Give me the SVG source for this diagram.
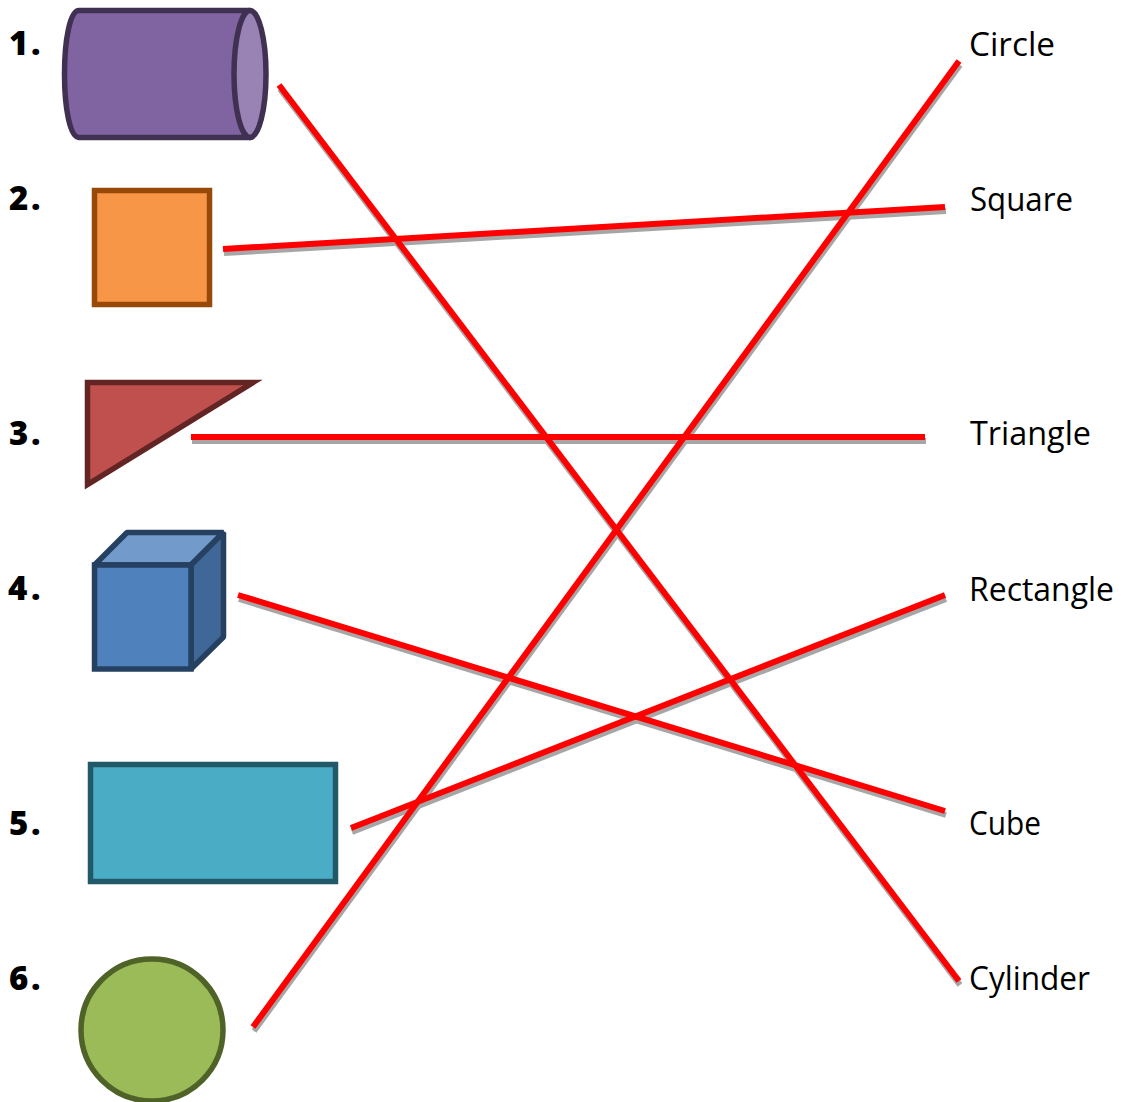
<svg xmlns="http://www.w3.org/2000/svg" width="1121" height="1102" viewBox="0 0 1121 1102">
<style>
text{font-family:"Open Sans","Noto Sans","Liberation Sans",sans-serif;font-size:32px;fill:#000}
.n{font-weight:800;font-size:33px}
.s{stroke-width:5.500}
.sh{stroke:#a6a6a6;stroke-width:6;fill:none}
.r{stroke:#ff0000;stroke-width:6;fill:none}
</style>
<rect width="1121" height="1102" fill="#fff"/>
<g id="node-cylinder" class="s" stroke="#403152" stroke-linejoin="round">
<path fill="#8064a2" d="M79 10.500H250V137.500H79C70 137.500 64.500 108 64.500 74S70 10.500 79 10.500Z"/>
<ellipse cx="250" cy="74" rx="16" ry="63.500" fill="#9983b5"/>
<text class="n" x="9" y="55" stroke="none">1<tspan x="31">.</tspan></text>
</g>
<g id="node-square">
<rect class="s" x="94.500" y="190.500" width="115" height="114" fill="#f79646" stroke="#984807"/>
<text class="n" x="9" y="210">2<tspan x="31">.</tspan></text>
</g>
<g id="node-triangle">
<path class="s" d="M87.500 382.500H253L87.500 484.500Z" fill="#c0504d" stroke="#632523"/>
<text class="n" x="9" y="445">3<tspan x="31">.</tspan></text>
</g>
<g id="node-cube" class="s" stroke="#254061" stroke-linejoin="bevel">
<path fill="#729aca" d="M94.500 565L127 532.500H223.500L191 565Z"/>
<path fill="#3f6797" d="M191 565L223.500 532.500V637L191 669Z"/>
<rect x="94.500" y="565" width="96.500" height="104" fill="#4f81bd" stroke-linejoin="miter"/>
<text class="n" x="8" y="600" stroke="none">4<tspan x="31">.</tspan></text>
</g>
<g id="node-rectangle">
<rect class="s" x="90.500" y="764.500" width="245" height="117" fill="#4bacc6" stroke="#215968"/>
<text class="n" x="9" y="835">5<tspan x="31">.</tspan></text>
</g>
<g id="node-circle">
<circle class="s" cx="152" cy="1030" r="71" fill="#9bbb59" stroke="#4f6228"/>
<text class="n" x="9" y="990">6<tspan x="31">.</tspan></text>
</g>
<g id="labels">
<text x="969" y="56" textLength="86" lengthAdjust="spacingAndGlyphs">Circle</text>
<text x="970" y="211" textLength="103" lengthAdjust="spacingAndGlyphs">Square</text>
<text x="970" y="445" textLength="121" lengthAdjust="spacingAndGlyphs">Triangle</text>
<text x="969" y="601" textLength="145" lengthAdjust="spacingAndGlyphs">Rectangle</text>
<text x="969" y="835" textLength="72" lengthAdjust="spacingAndGlyphs">Cube</text>
<text x="969" y="990" textLength="121" lengthAdjust="spacingAndGlyphs">Cylinder</text>
</g>
<g id="connectors">
<g class="sh" transform="translate(1 4)">
<path d="M279 85L959 981"/><path d="M223 249L945 207"/><path d="M191 437H925"/><path d="M238 595L945 811"/><path d="M351 828L945 595"/><path d="M253 1027L959 61"/>
</g>
<g class="r">
<path d="M279 85L959 981"/><path d="M223 249L945 207"/><path d="M191 437H925"/><path d="M238 595L945 811"/><path d="M351 828L945 595"/><path d="M253 1027L959 61"/>
</g>
</g>
</svg>
